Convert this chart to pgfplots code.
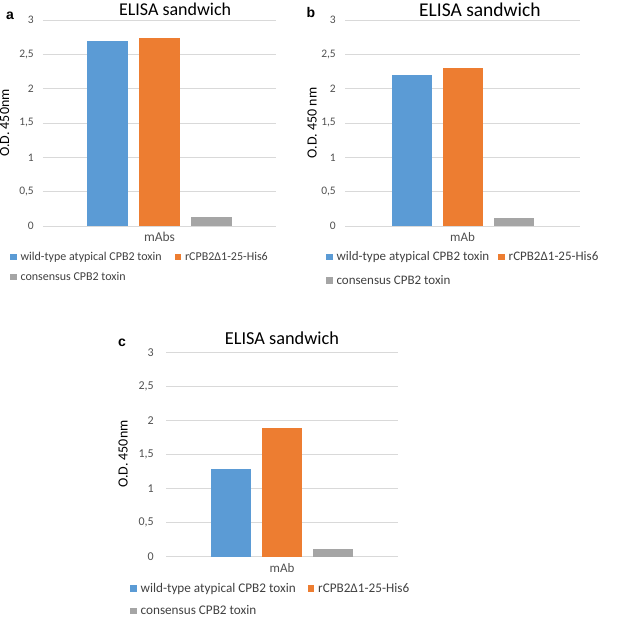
\documentclass[border=0pt]{standalone}
\usepackage{fontspec}
\setmainfont{Carlito}
\newfontfamily\arialfont{Liberation Sans}
\usepackage{pgfplots}
\pgfplotsset{compat=1.18}
\definecolor{xblue}{HTML}{5B9BD5}
\definecolor{xorange}{HTML}{ED7D31}
\definecolor{xgray}{HTML}{A5A5A5}
\definecolor{gridc}{HTML}{D9D9D9}
\definecolor{tickc}{HTML}{505050}
\definecolor{txtc}{HTML}{404040}
\pgfplotsset{
  elisa/.style={
    scale only axis,
    clip=false,
    anchor=south west,
    ybar=11pt,
    ymin=0, ymax=3,
    xmin=-1, xmax=1,
    xtick={0},
    ytick={0,0.5,1,1.5,2,2.5,3},
    yticklabels={0,{0,5},1,{1,5},2,{2,5},3},
    ymajorgrids,
    grid style={gridc, line width=0.8pt},
    axis line style={draw=none},
    major tick length=0pt,
    every axis title shift=0pt,
    yticklabel style={anchor=east, inner sep=0pt, xshift=-9pt, font=\fontsize{11.5}{12}\selectfont, text=tickc},
    xticklabel style={anchor=center, inner sep=0pt, yshift=-11pt, font=\fontsize{13.5}{14}\selectfont, text=tickc},
    ylabel style={anchor=center, rotate=0, font=\fontsize{14}{15}\selectfont, text=black},
    legend columns=2,
    legend cell align=left,
    legend style={draw=none, fill=none, inner sep=0pt, anchor=north west, text=txtc,
      /tikz/every odd column/.append style={column sep=2pt},
      /tikz/every even column/.append style={column sep=11pt}},
  },
  sq/.style={draw=none, fill=#1,
    legend image code/.code={\fill[#1] (0pt,-3.2pt) rectangle (6.4pt,3.2pt);}},
}
\begin{document}
\begin{tikzpicture}[x=1pt,y=1pt]
\path[use as bounding box] (0,0) rectangle (638,617);
% panel a
\begin{axis}[elisa, at={(43pt,391pt)}, width=233pt, height=206pt,
  bar width=41pt,
  xticklabels={mAbs},
  title={ELISA sandwich},
  title style={at={(axis description cs:0.567,1.053)}, anchor=center, text=black, font=\fontsize{18}{20}\selectfont},
  ylabel={O.D. 450nm},
  ylabel style={at={(axis description cs:-0.165,0.5)}},
  legend style={at={(axis description cs:-0.1416,-0.117)}, font=\fontsize{12}{14}\selectfont, row sep=6pt},
]
\addplot[sq=xblue] coordinates {(0,2.70)};
\addplot[sq=xorange] coordinates {(0,2.74)};
\addplot[sq=xgray] coordinates {(0,0.13)};
\legend{wild-type atypical CPB2 toxin, rCPB2Δ1-25-His6, consensus CPB2 toxin}
\node[font=\arialfont\bfseries\fontsize{14}{16}\selectfont] at (axis description cs:-0.1416,1.022) {a};
\end{axis}
% panel b
\begin{axis}[elisa, at={(345pt,391pt)}, width=235pt, height=206pt,
  bar width=40pt,
  xticklabels={mAb},
  xticklabel style={font=\fontsize{13}{14}\selectfont},
  title={ELISA sandwich},
  title style={at={(axis description cs:0.574,1.049)}, anchor=center, text=black, font=\fontsize{19.5}{21}\selectfont},
  ylabel={O.D. 450 nm},
  ylabel style={at={(axis description cs:-0.140,0.5)}},
  legend style={at={(axis description cs:-0.081,-0.115)}, font=\fontsize{13}{15}\selectfont,
    /tikz/every even column/.append style={column sep=7pt}, row sep=9pt},
]
\addplot[sq=xblue] coordinates {(0,2.20)};
\addplot[sq=xorange] coordinates {(0,2.30)};
\addplot[sq=xgray] coordinates {(0,0.12)};
\legend{wild-type atypical CPB2 toxin, rCPB2Δ1-25-His6, consensus CPB2 toxin}
\node[font=\arialfont\bfseries\fontsize{14}{16}\selectfont] at (axis description cs:-0.145,1.034) {b};
\end{axis}
% panel c
\begin{axis}[elisa, at={(166pt,60.3pt)}, width=232pt, height=204.4pt,
  bar width=40pt,
  xticklabels={mAb},
  xticklabel style={font=\fontsize{13}{14}\selectfont},
  yticklabel style={font=\fontsize{12}{13}\selectfont, xshift=-3pt},
  title={ELISA sandwich},
  title style={at={(axis description cs:0.5,1.070)}, anchor=center, text=black, font=\fontsize{18.3}{20}\selectfont},
  ylabel={O.D. 450nm},
  ylabel style={at={(axis description cs:-0.185,0.502)}},
  legend style={at={(axis description cs:-0.155,-0.119)}, font=\fontsize{13.2}{15}\selectfont,
    /tikz/every even column/.append style={column sep=10pt}, row sep=8pt},
]
\addplot[sq=xblue] coordinates {(0,1.29)};
\addplot[sq=xorange] coordinates {(0,1.89)};
\addplot[sq=xgray] coordinates {(0,0.11)};
\legend{wild-type atypical CPB2 toxin, rCPB2Δ1-25-His6, consensus CPB2 toxin}
\node[font=\arialfont\bfseries\fontsize{14}{16}\selectfont] at (axis description cs:-0.19,1.045) {c};
\end{axis}
\end{tikzpicture}
\end{document}
